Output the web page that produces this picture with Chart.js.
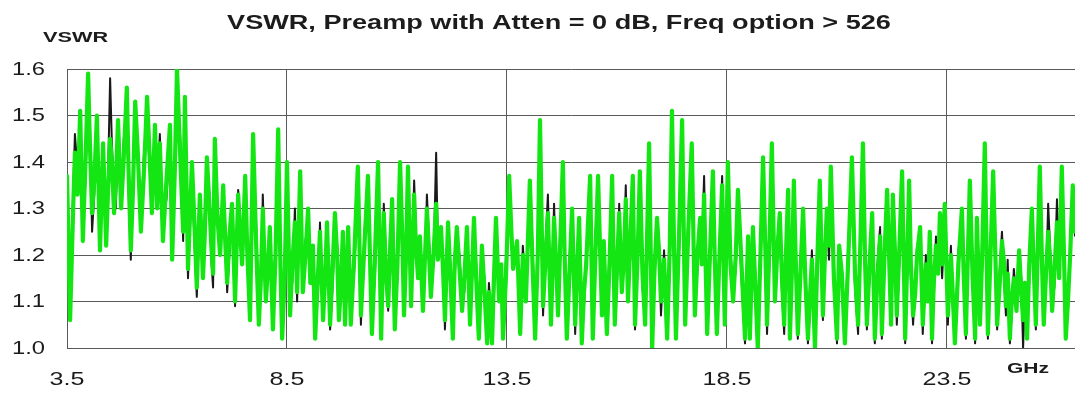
<!DOCTYPE html>
<html>
<head>
<meta charset="utf-8">
<title>VSWR, Preamp with Atten = 0 dB</title>
<script src="https://cdn.jsdelivr.net/npm/chart.js@4.4.1/dist/chart.umd.min.js"></script>
<style>
  html, body { margin: 0; padding: 0; background: #fff; }
  #wrap { position: relative; width: 1075px; height: 395px; }
</style>
</head>
<body>
<div id="wrap"><canvas id="vswrChart"></canvas></div>
<script>
// sweep frequencies, GHz
const freqGHz = [
  3.50, 3.57, 3.64, 3.68, 3.74, 3.80, 3.86, 3.92, 3.98, 4.02, 4.07, 4.12,
  4.18, 4.25, 4.32, 4.39, 4.43, 4.48, 4.52, 4.57, 4.61, 4.66, 4.73, 4.79,
  4.86, 4.90, 4.95, 5.00, 5.05, 5.11, 5.18, 5.25, 5.32, 5.37, 5.43, 5.50,
  5.55, 5.61, 5.68, 5.76, 5.84, 5.89, 5.95, 6.00, 6.07, 6.14, 6.18, 6.25,
  6.34, 6.40, 6.45, 6.52, 6.59, 6.63, 6.68, 6.74, 6.78, 6.82,
  6.86, 6.92, 6.98, 7.05, 7.10, 7.14, 7.19, 7.25, 7.32, 7.39,
  7.44, 7.48, 7.55, 7.60, 7.66, 7.73, 7.80, 7.86, 7.91, 7.95,
  8.02, 8.07, 8.11, 8.18, 8.24, 8.30, 8.35, 8.39, 8.45, 8.50,
  8.57, 8.62, 8.68, 8.73, 8.80, 8.86, 8.92, 8.98, 9.03, 9.09,
  9.14, 9.20, 9.25, 9.32, 9.37, 9.41, 9.48, 9.54, 9.59, 9.64,
  9.68, 9.73, 9.77, 9.82, 9.89, 9.95, 10.03, 10.11, 10.18, 10.26,
  10.34, 10.39, 10.43, 10.50, 10.57, 10.64, 10.70, 10.75, 10.80, 10.84,
  10.89, 10.95, 11.01, 11.07, 11.12, 11.16, 11.20, 11.25, 11.32, 11.39,
  11.43, 11.48, 11.52, 11.59, 11.63, 11.68, 11.72, 11.77, 11.83, 11.89,
  11.93, 12.00, 12.05, 12.09, 12.16, 12.22, 12.27, 12.31, 12.36, 12.42,
  12.48, 12.53, 12.59, 12.66, 12.75, 12.80, 12.86, 12.93, 12.99, 13.05,
  13.09, 13.16, 13.20, 13.25, 13.32, 13.37, 13.41, 13.48, 13.55,
  13.60, 13.64, 13.73, 13.80, 13.86, 13.93, 14.02, 14.08, 14.14, 14.20,
  14.25, 14.32, 14.37, 14.43, 14.50, 14.57, 14.62, 14.66, 14.71, 14.77,
  14.81, 14.86, 14.92, 14.98, 15.05, 15.10, 15.14, 15.20, 15.25, 15.30,
  15.39, 15.45, 15.51, 15.57, 15.62, 15.66, 15.70, 15.77, 15.83, 15.89,
  15.95, 16.00, 16.05, 16.11, 16.16, 16.20, 16.25, 16.30, 16.36, 16.41,
  16.47, 16.52, 16.58, 16.64, 16.68, 16.73, 16.80, 16.85, 16.91, 16.96,
  17.00, 17.07, 17.14, 17.20, 17.25, 17.30, 17.34, 17.41, 17.48, 17.55,
  17.62, 17.70, 17.77, 17.83, 17.89, 17.93, 17.98, 18.05, 18.12, 18.18,
  18.22, 18.27, 18.33, 18.39, 18.45, 18.52,
  18.58, 18.64, 18.70, 18.75, 18.83, 18.91, 18.98, 19.02, 19.09, 19.15,
  19.20, 19.26, 19.32, 19.37, 19.41, 19.47, 19.52, 19.59, 19.64, 19.70,
  19.75, 19.80, 19.84, 19.89, 19.93, 19.98, 20.02, 20.06, 20.11, 20.17,
  20.23, 20.28, 20.34, 20.38, 20.43, 20.50, 20.55, 20.61, 20.68, 20.72,
  20.77, 20.82, 20.86, 20.93, 21.00, 21.05, 21.11, 21.18, 21.26, 21.34,
  21.41, 21.48, 21.53, 21.59, 21.64, 21.68, 21.74, 21.80, 21.86, 21.92,
  21.98, 22.02, 22.08, 22.14, 22.19, 22.23, 22.27, 22.32, 22.36, 22.42,
  22.48, 22.55, 22.60, 22.64, 22.68, 22.73, 22.78, 22.82, 22.89, 22.95,
  23.02, 23.06, 23.11, 23.16, 23.20, 23.25, 23.30, 23.34, 23.39, 23.45,
  23.52, 23.59, 23.63, 23.68, 23.76, 23.84, 23.88, 23.93, 23.97, 24.02,
  24.08, 24.14, 24.18, 24.25, 24.30, 24.36, 24.43, 24.49, 24.55, 24.60,
  24.64, 24.70, 24.75, 24.80, 24.84, 24.88, 24.93, 24.97, 25.02, 25.08,
  25.14, 25.19, 25.23, 25.27, 25.32, 25.37, 25.43, 25.47, 25.52, 25.56,
  25.61, 25.66, 25.70, 25.75, 25.80, 25.85, 25.89, 25.94, 26.00, 26.05,
  26.11, 26.16, 26.20, 26.25, 26.30, 26.36, 26.41
];

// green trace
const vswrGreen = [
  1.37, 1.06, 1.30, 1.42, 1.33, 1.51, 1.23, 1.40, 1.59, 1.44, 1.29, 1.36,
  1.50, 1.21, 1.44, 1.22, 1.33, 1.45, 1.40, 1.29, 1.36, 1.49, 1.30, 1.41,
  1.56, 1.38, 1.21, 1.34, 1.53, 1.42, 1.25, 1.38, 1.54, 1.43, 1.29, 1.48,
  1.30, 1.44, 1.23, 1.36, 1.48, 1.19, 1.38, 1.60, 1.42, 1.25, 1.54, 1.17,
  1.40, 1.26, 1.13, 1.33, 1.15, 1.24, 1.41, 1.30, 1.22, 1.16,
  1.45, 1.28, 1.20, 1.35, 1.22, 1.14, 1.24, 1.31, 1.10, 1.33,
  1.24, 1.18, 1.37, 1.20, 1.06, 1.46, 1.22, 1.05, 1.16, 1.30,
  1.10, 1.18, 1.26, 1.04, 1.20, 1.47, 1.18, 1.02, 1.16, 1.40,
  1.07, 1.18, 1.27, 1.12, 1.38, 1.12, 1.20, 1.30, 1.14, 1.22,
  1.02, 1.15, 1.25, 1.06, 1.16, 1.27, 1.05, 1.18, 1.29, 1.20,
  1.06, 1.14, 1.25, 1.05, 1.26, 1.05, 1.20, 1.39, 1.07, 1.22,
  1.37, 1.18, 1.03, 1.20, 1.40, 1.02, 1.29, 1.16, 1.09, 1.20,
  1.32, 1.04, 1.18, 1.40, 1.24, 1.07, 1.18, 1.39, 1.09, 1.33,
  1.22, 1.15, 1.24, 1.08, 1.18, 1.30, 1.22, 1.11, 1.20, 1.31,
  1.19, 1.26, 1.16, 1.06, 1.27, 1.14, 1.02, 1.18, 1.26, 1.17,
  1.08, 1.15, 1.26, 1.05, 1.28, 1.15, 1.02, 1.22, 1.12, 1.01,
  1.12, 1.01, 1.14, 1.28, 1.10, 1.18, 1.02, 1.16, 1.37,
  1.25, 1.17, 1.23, 1.03, 1.20, 1.10, 1.36, 1.18, 1.02, 1.20,
  1.49, 1.09, 1.18, 1.29, 1.05, 1.28, 1.18, 1.07, 1.22, 1.40,
  1.20, 1.02, 1.16, 1.30, 1.05, 1.18, 1.28, 1.01, 1.12, 1.18,
  1.37, 1.02, 1.20, 1.37, 1.20, 1.07, 1.23, 1.03, 1.18, 1.37,
  1.05, 1.17, 1.29, 1.12, 1.20, 1.32, 1.10, 1.22, 1.37, 1.05,
  1.20, 1.38, 1.16, 1.05, 1.22, 1.44, 1.00, 1.16, 1.28, 1.20,
  1.10, 1.19, 1.02, 1.22, 1.51, 1.20, 1.02, 1.24, 1.49, 1.05,
  1.25, 1.44, 1.07, 1.20, 1.28, 1.18, 1.33, 1.03, 1.22, 1.38,
  1.20, 1.03, 1.20, 1.35, 1.05, 1.40,
  1.18, 1.10, 1.20, 1.34, 1.18, 1.02, 1.24, 1.02, 1.26, 1.12,
  1.00, 1.20, 1.41, 1.22, 1.05, 1.24, 1.44, 1.10, 1.20, 1.29,
  1.15, 1.05, 1.20, 1.34, 1.02, 1.18, 1.36, 1.20, 1.03, 1.16,
  1.30, 1.15, 1.02, 1.10, 1.19, 1.00, 1.18, 1.36, 1.07, 1.18,
  1.30, 1.22, 1.39, 1.15, 1.02, 1.22, 1.16, 1.01, 1.20, 1.41,
  1.16, 1.05, 1.22, 1.44, 1.18, 1.05, 1.18, 1.29, 1.02, 1.15,
  1.24, 1.03, 1.20, 1.34, 1.18, 1.05, 1.33, 1.20, 1.07, 1.22,
  1.38, 1.02, 1.20, 1.36, 1.18, 1.07, 1.12, 1.20, 1.26, 1.05,
  1.18, 1.10, 1.25, 1.02, 1.14, 1.22, 1.16, 1.29, 1.18, 1.31,
  1.07, 1.20, 1.12, 1.01, 1.18, 1.30, 1.16, 1.03, 1.18, 1.36,
  1.16, 1.02, 1.28, 1.05, 1.20, 1.44, 1.03, 1.20, 1.38, 1.20,
  1.05, 1.14, 1.23, 1.18, 1.09, 1.16, 1.02, 1.10, 1.15, 1.08,
  1.21, 1.12, 1.06, 1.14, 1.02, 1.18, 1.30, 1.18, 1.05, 1.20,
  1.39, 1.18, 1.05, 1.16, 1.25, 1.18, 1.08, 1.16, 1.27, 1.15,
  1.39, 1.20, 1.02, 1.10, 1.20, 1.35, 1.25
];

// black trace
const vswrBlack = [
  1.35, 1.08, 1.33, 1.46, 1.38, 1.45, 1.26, 1.36, 1.57, 1.48, 1.25, 1.33,
  1.47, 1.24, 1.41, 1.25, 1.36, 1.58, 1.44, 1.33, 1.30, 1.46, 1.32, 1.45,
  1.52, 1.34, 1.19, 1.37, 1.49, 1.40, 1.27, 1.42, 1.50, 1.40, 1.31, 1.45,
  1.33, 1.46, 1.26, 1.32, 1.45, 1.22, 1.35, 1.56, 1.46, 1.23, 1.50, 1.15,
  1.37, 1.22, 1.11, 1.30, 1.17, 1.28, 1.38, 1.33, 1.19, 1.13,
  1.42, 1.31, 1.21, 1.33, 1.26, 1.12, 1.20, 1.29, 1.09, 1.34,
  1.27, 1.20, 1.35, 1.17, 1.10, 1.41, 1.26, 1.08, 1.12, 1.33,
  1.12, 1.21, 1.24, 1.06, 1.24, 1.42, 1.15, 1.03, 1.20, 1.37,
  1.09, 1.14, 1.30, 1.10, 1.34, 1.14, 1.23, 1.28, 1.17, 1.19,
  1.04, 1.12, 1.27, 1.07, 1.19, 1.25, 1.04, 1.14, 1.27, 1.22,
  1.08, 1.17, 1.23, 1.06, 1.24, 1.07, 1.17, 1.35, 1.05, 1.25,
  1.34, 1.21, 1.05, 1.16, 1.37, 1.04, 1.31, 1.19, 1.08, 1.24,
  1.30, 1.06, 1.15, 1.37, 1.22, 1.09, 1.20, 1.35, 1.12, 1.36,
  1.25, 1.17, 1.22, 1.10, 1.16, 1.33, 1.25, 1.13, 1.18, 1.42,
  1.21, 1.24, 1.19, 1.04, 1.25, 1.17, 1.03, 1.15, 1.24, 1.20,
  1.10, 1.12, 1.24, 1.07, 1.26, 1.18, 1.03, 1.20, 1.15, 1.02,
  1.14, 1.03, 1.10, 1.25, 1.12, 1.15, 1.04, 1.20, 1.34,
  1.22, 1.19, 1.21, 1.05, 1.22, 1.12, 1.32, 1.22, 1.04, 1.17,
  1.42, 1.07, 1.21, 1.33, 1.06, 1.31, 1.15, 1.09, 1.26, 1.37,
  1.17, 1.04, 1.19, 1.27, 1.03, 1.21, 1.26, 1.03, 1.09, 1.20,
  1.34, 1.04, 1.24, 1.35, 1.17, 1.09, 1.21, 1.05, 1.21, 1.34,
  1.07, 1.14, 1.31, 1.14, 1.22, 1.35, 1.12, 1.19, 1.34, 1.04,
  1.23, 1.35, 1.13, 1.06, 1.25, 1.40, 1.01, 1.19, 1.26, 1.22,
  1.07, 1.21, 1.03, 1.18, 1.46, 1.24, 1.04, 1.20, 1.45, 1.06,
  1.28, 1.40, 1.09, 1.17, 1.26, 1.21, 1.37, 1.04, 1.19, 1.35,
  1.23, 1.05, 1.22, 1.37, 1.06, 1.36,
  1.21, 1.12, 1.17, 1.31, 1.15, 1.01, 1.22, 1.03, 1.24, 1.15,
  1.01, 1.17, 1.38, 1.25, 1.03, 1.20, 1.41, 1.12, 1.23, 1.27,
  1.12, 1.03, 1.17, 1.31, 1.04, 1.21, 1.33, 1.17, 1.02, 1.19,
  1.27, 1.18, 1.01, 1.07, 1.21, 1.01, 1.15, 1.33, 1.06, 1.21,
  1.28, 1.19, 1.36, 1.18, 1.01, 1.19, 1.18, 1.02, 1.23, 1.38,
  1.13, 1.03, 1.25, 1.40, 1.21, 1.04, 1.15, 1.27, 1.01, 1.18,
  1.26, 1.02, 1.17, 1.31, 1.21, 1.06, 1.30, 1.23, 1.05, 1.19,
  1.35, 1.01, 1.23, 1.33, 1.15, 1.05, 1.15, 1.22, 1.24, 1.03,
  1.20, 1.13, 1.23, 1.01, 1.11, 1.24, 1.19, 1.27, 1.15, 1.29,
  1.05, 1.22, 1.09, 1.02, 1.21, 1.27, 1.19, 1.02, 1.15, 1.33,
  1.19, 1.01, 1.26, 1.06, 1.17, 1.40, 1.02, 1.23, 1.35, 1.17,
  1.04, 1.17, 1.25, 1.15, 1.07, 1.19, 1.01, 1.07, 1.17, 1.10,
  1.19, 1.15, 1.00, 1.11, 1.03, 1.15, 1.27, 1.21, 1.04, 1.17,
  1.35, 1.22, 1.06, 1.13, 1.31, 1.20, 1.10, 1.13, 1.32, 1.18,
  1.34, 1.17, 1.03, 1.08, 1.22, 1.31, 1.24
];

const xTickValues = [3.5, 8.5, 13.5, 18.5, 23.5];
const yTickValues = [1.0, 1.1, 1.2, 1.3, 1.4, 1.5, 1.6];

const chartTitle = 'VSWR, Preamp with Atten = 0 dB, Freq option > 526';
const yUnit = 'VSWR';
const xUnit = 'GHz';

const FONT = "'Liberation Sans', Arial, sans-serif";
const INK = '#1c1c1c';
const GRID = '#5a5a5a';

function toPoints(vals) {
  return freqGHz.map((f, i) => ({ x: f, y: vals[i] }));
}

// text in this chart is set wide, so stretch it horizontally
function wideText(ctx, text, x, y, align, sx) {
  ctx.save();
  ctx.translate(x, y);
  ctx.scale(sx, 1);
  ctx.textAlign = align;
  ctx.fillText(text, 0, 0);
  ctx.restore();
}

// tick labels, title and unit captions
const captions = {
  id: 'captions',
  afterDraw(chart) {
    const ctx = chart.ctx;
    const xs = chart.scales.x, ys = chart.scales.y;
    ctx.save();
    ctx.fillStyle = INK;
    ctx.textBaseline = 'middle';

    ctx.font = '18px ' + FONT;
    ys.ticks.forEach(t => {
      wideText(ctx, t.value.toFixed(1), 45, ys.getPixelForValue(t.value) + 1, 'right', 1.32);
    });
    ctx.font = '19px ' + FONT;
    xs.ticks.forEach(t => {
      wideText(ctx, t.value.toFixed(1), xs.getPixelForValue(t.value), ys.bottom + 32, 'center', 1.32);
    });

    ctx.font = 'bold 21px ' + FONT;
    wideText(ctx, chartTitle, 559, 23, 'center', 1.29);
    ctx.font = 'bold 14px ' + FONT;
    wideText(ctx, yUnit, 43, 38, 'left', 1.55);
    wideText(ctx, xUnit, 1007, 369, 'left', 1.5);
    ctx.restore();
  }
};

new Chart(document.getElementById('vswrChart'), {
  type: 'line',
  data: {
    datasets: [
      {
        // first dataset is painted last, so green sits on top
        label: 'green',
        data: toPoints(vswrGreen),
        borderColor: '#14e614',
        borderWidth: 4.2,
        borderJoinStyle: 'round',
        borderCapStyle: 'round',
        pointRadius: 0,
        tension: 0
      },
      {
        label: 'black',
        data: toPoints(vswrBlack),
        borderColor: '#1a1a1a',
        borderWidth: 2,
        borderJoinStyle: 'round',
        pointRadius: 0,
        tension: 0
      }
    ]
  },
  options: {
    responsive: true,
    maintainAspectRatio: false,
    animation: false,
    layout: { padding: { top: 69, right: 0, bottom: 0, left: 0 } },
    plugins: {
      legend: { display: false },
      tooltip: { enabled: false }
    },
    scales: {
      x: {
        type: 'linear',
        min: 3.5,
        max: 26.41,
        afterBuildTicks: s => { s.ticks = xTickValues.map(v => ({ value: v })); },
        afterFit: s => { s.height = 47; },
        ticks: { display: false },
        grid: { color: GRID, lineWidth: 1, drawTicks: false },
        border: { color: GRID, width: 1 }
      },
      y: {
        min: 1.0,
        max: 1.6,
        afterBuildTicks: s => { s.ticks = yTickValues.map(v => ({ value: v })); },
        afterFit: s => { s.width = 67; },
        ticks: { display: false },
        grid: { color: GRID, lineWidth: 1, drawTicks: false },
        border: { color: GRID, width: 1 }
      }
    }
  },
  plugins: [captions]
});
</script>
</body>
</html>
